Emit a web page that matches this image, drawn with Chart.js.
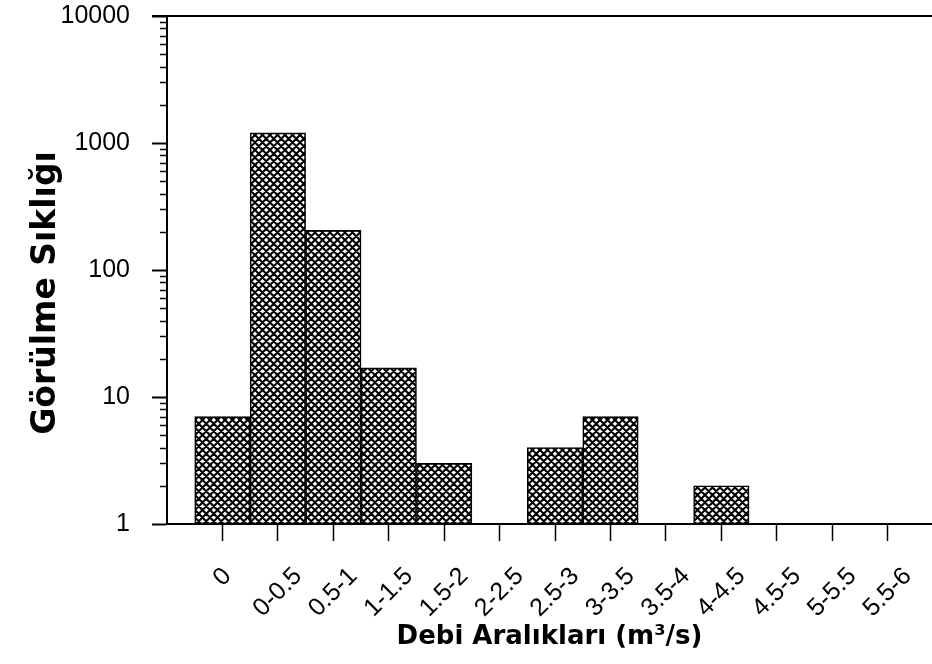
<!DOCTYPE html>
<html lang="tr">
<head>
  <meta charset="UTF-8" />
  <title>Görülme Sıklığı - Debi Aralıkları</title>
  <script src="https://cdn.jsdelivr.net/npm/chart.js@4"></script>
  <style>
    html, body { margin: 0; padding: 0; background: #fff; }
    #wrap { width: 932px; height: 664px; }
  </style>
</head>
<body>
  <div id="wrap"><canvas id="chart"></canvas></div>

  <script>
    // flow ranges (m3/s) and how often each one was seen
    const categories = ['0', '0-0.5', '0.5-1', '1-1.5', '1.5-2', '2-2.5', '2.5-3', '3-3.5', '3.5-4', '4-4.5', '4.5-5', '5-5.5', '5.5-6'];
    const counts = [7, 1200, 205, 17, 3, null, 4, 7, null, 2, null, null, null];
    const yTicks = [1, 10, 100, 1000, 10000];
    const xTitle = 'Debi Aralıkları (m³/s)';
    const yTitle = 'Görülme Sıklığı';

    // cross-hatch fill like the printed figure
    function hatchPattern() {
      const s = 15;
      const c = document.createElement('canvas');
      c.width = c.height = s;
      const g = c.getContext('2d');
      g.fillStyle = '#fff';
      g.fillRect(0, 0, s, s);
      g.strokeStyle = '#000';
      g.lineWidth = 2.1;
      g.beginPath();
      for (let k = -3; k <= 5; k++) {
        const o = k * 7.5;
        g.moveTo(o - 3, -3); g.lineTo(o + s + 3, s + 3);
        g.moveTo(o + 3, -3); g.lineTo(o - s - 3, s + 3);
      }
      g.stroke();
      return g.createPattern(c, 'repeat');
    }

    const decor = {
      id: 'decor',
      afterDraw(chart) {
        const { ctx, chartArea: a, scales: { x, y } } = chart;
        ctx.save();
        ctx.strokeStyle = '#000';
        ctx.fillStyle = '#000';

        // top frame line
        ctx.lineWidth = 2;
        ctx.beginPath();
        ctx.moveTo(a.left - 15, a.top);
        ctx.lineTo(a.right, a.top);
        ctx.stroke();

        // minor ticks of the log axis
        ctx.lineWidth = 1.5;
        ctx.beginPath();
        for (let d = 1; d < 10000; d *= 10) {
          for (let m = 2; m <= 9; m++) {
            const py = Math.round(y.getPixelForValue(d * m)) + 0.5;
            ctx.moveTo(a.left - 7, py);
            ctx.lineTo(a.left, py);
          }
        }
        ctx.stroke();

        // slanted category labels, centred under their ticks
        ctx.font = '25px "Liberation Sans", Arial, sans-serif';
        ctx.textAlign = 'center';
        ctx.textBaseline = 'middle';
        categories.forEach((c, i) => {
          const w = ctx.measureText(c).width;
          const cx = x.getPixelForValue(i);
          const cy = a.bottom + 42 + (w + 18) * Math.SQRT1_2 / 2;
          ctx.save();
          ctx.translate(cx, cy);
          ctx.rotate(-Math.PI / 4);
          ctx.fillText(c, 0, 0);
          ctx.restore();
        });

        // y axis title
        ctx.font = 'bold 33px "DejaVu Sans", sans-serif';
        ctx.translate(46, 293);
        ctx.rotate(-Math.PI / 2);
        ctx.fillText(yTitle, 0, 0);
        ctx.restore();
      }
    };

    new Chart(document.getElementById('chart'), {
      type: 'bar',
      data: {
        datasets: [{
          data: counts.map((v, i) => ({ x: i, y: v })),
          backgroundColor: hatchPattern(),
          borderColor: '#000',
          borderWidth: 1.6,
          borderSkipped: false,
          barPercentage: 1,
          categoryPercentage: 1
        }]
      },
      options: {
        responsive: true,
        maintainAspectRatio: false,
        animation: false,
        layout: { padding: { top: 16, left: 0, right: 0, bottom: 0 } },
        plugins: {
          legend: { display: false },
          tooltip: { enabled: false }
        },
        scales: {
          x: {
            type: 'linear',
            min: -1,
            max: 12.8,
            offset: false,
            afterBuildTicks: s => { s.ticks = categories.map((c, i) => ({ value: i })); },
            afterFit: s => { s.height = 140; s.paddingLeft = 0; s.paddingRight = 0; },
            ticks: { display: false },
            grid: { drawOnChartArea: false, offset: false, tickLength: 17, tickColor: '#000', tickWidth: 1.5 },
            border: { color: '#000', width: 2 },
            title: {
              display: true,
              text: xTitle,
              color: '#000',
              font: { family: '"DejaVu Sans", sans-serif', size: 26, weight: 'bold' },
              padding: { top: 0, bottom: 11 }
            }
          },
          y: {
            type: 'logarithmic',
            min: 1,
            max: 10000,
            afterBuildTicks: s => { s.ticks = yTicks.map(v => ({ value: v })); },
            afterFit: s => { s.width = 167; s.paddingTop = 0; s.paddingBottom = 0; },
            ticks: {
              color: '#000',
              padding: 22,
              font: { family: '"Liberation Sans", Arial, sans-serif', size: 25 },
              callback: v => String(v)
            },
            grid: { drawOnChartArea: false, tickLength: 15, tickColor: '#000', tickWidth: 2 },
            border: { color: '#000', width: 2 }
          }
        }
      },
      plugins: [decor]
    });
  </script>
</body>
</html>
